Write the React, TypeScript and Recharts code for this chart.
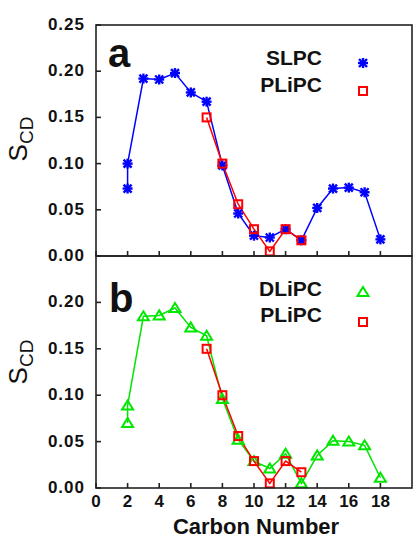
import React from "react";
import { LineChart, Line, XAxis, YAxis } from "recharts";

const carbonTicks = [0, 2, 4, 6, 8, 10, 12, 14, 16, 18];
const scdTicksTop = [0, 0.05, 0.1, 0.15, 0.2, 0.25];
const scdTicksBottom = [0, 0.05, 0.1, 0.15, 0.2];

// panel a: SLPC
const slpcCarbon = [2, 2, 3, 4, 5, 6, 7, 8, 9, 10, 11, 12, 13, 14, 15, 16, 17, 18];
const slpcScd = [0.073, 0.1, 0.192, 0.191, 0.198, 0.177, 0.167, 0.098, 0.046, 0.022, 0.02, 0.029, 0.017, 0.052, 0.073, 0.074, 0.069, 0.018];

// PLiPC, same in both panels
const plipcCarbon = [7, 8, 9, 10, 11, 12, 13];
const plipcScd = [0.15, 0.1, 0.056, 0.029, 0.005, 0.029, 0.017];

// panel b: DLiPC
const dlipcCarbon = [2, 2, 3, 4, 5, 6, 7, 8, 9, 10, 11, 12, 13, 14, 15, 16, 17, 18];
const dlipcScd = [0.07, 0.089, 0.185, 0.186, 0.194, 0.173, 0.164, 0.096, 0.052, 0.029, 0.021, 0.037, 0.005, 0.035, 0.051, 0.05, 0.046, 0.011];

const toRows = (xs: number[], ys: number[]) => xs.map((c, i) => ({ carbon: c, scd: ys[i] }));

const slpcData = toRows(slpcCarbon, slpcScd);
const plipcData = toRows(plipcCarbon, plipcScd);
const dlipcData = toRows(dlipcCarbon, dlipcScd);

const BLUE = "#0000ff";
const RED = "#ff0000";
const GREEN = "#00e600";
const AXIS = "#222222";
const FONT = "'Liberation Sans', Arial, sans-serif";
const TICK_LEN = 5;

// plot boxes (px): left, right, top of a, split, bottom of b
const BOX_L = 96;
const BOX_R = 412;
const BOX_TOP = 25;
const BOX_MID = 256;
const BOX_BOT = 488;

const Asterisk = ({ cx, cy }: { cx: number; cy: number }) => (
  <g stroke={BLUE} strokeWidth={2.4}>
    <line x1={cx - 5} y1={cy} x2={cx + 5} y2={cy} />
    <line x1={cx} y1={cy - 5} x2={cx} y2={cy + 5} />
    <line x1={cx - 4} y1={cy - 4} x2={cx + 4} y2={cy + 4} />
    <line x1={cx - 4} y1={cy + 4} x2={cx + 4} y2={cy - 4} />
  </g>
);

const Square = ({ cx, cy }: { cx: number; cy: number }) => (
  <rect x={cx - 4} y={cy - 4} width={8} height={8} fill="none" stroke={RED} strokeWidth={2} />
);

const Triangle = ({ cx, cy }: { cx: number; cy: number }) => (
  <path d={`M${cx},${cy - 5}L${cx + 5.5},${cy + 4}L${cx - 5.5},${cy + 4}Z`} fill="none" stroke={GREEN} strokeWidth={2} />
);

const dotOf = (Shape: any) => (p: any) => <Shape key={`d-${p.index}`} cx={p.cx} cy={p.cy} />;

// ticks point inwards; labels drawn outside the frame
const LeftTick = ({ x, y, payload }: any) => (
  <g>
    <path d={`M${Number(x)},${Number(y)}h${TICK_LEN}`} stroke={AXIS} strokeWidth={1.6} fill="none" />
    <text x={Number(x) - 11} y={y} dy={5} textAnchor="end" fontSize={17} fontWeight="bold" fill="#111" fontFamily={FONT} letterSpacing={1}>
      {Number(payload.value).toFixed(2)}
    </text>
  </g>
);

const RightTick = ({ x, y }: any) => (
  <path d={`M${Number(x)},${Number(y)}h${-TICK_LEN}`} stroke={AXIS} strokeWidth={1.6} fill="none" />
);

const TopTick = ({ x, y }: any) => (
  <path d={`M${Number(x)},${Number(y)}v${TICK_LEN}`} stroke={AXIS} strokeWidth={1.6} fill="none" />
);

const BottomTick = ({ x, y, payload, labels }: any) => (
  <g>
    <path d={`M${Number(x)},${Number(y)}v${-TICK_LEN}`} stroke={AXIS} strokeWidth={1.6} fill="none" />
    {labels && (
      <text x={x} y={y} dy={19} textAnchor="middle" fontSize={17} fontWeight="bold" fill="#111" fontFamily={FONT}>
        {payload.value}
      </text>
    )}
  </g>
);

function Frame({ yTicks, showXLabels }: { yTicks: number[]; showXLabels: boolean }) {
  const common = { axisLine: false, tickLine: false, tickSize: 0, tickMargin: 0, interval: 0 as const };
  return [
    <XAxis
      key="xb"
      dataKey="carbon"
      type="number"
      domain={[0, 20]}
      ticks={carbonTicks}
      height={showXLabels ? 50 : 1}
      tick={<BottomTick labels={showXLabels} />}
      {...common}
    />,
    <XAxis
      key="xt"
      xAxisId="top"
      orientation="top"
      dataKey="carbon"
      type="number"
      domain={[0, 20]}
      ticks={carbonTicks}
      height={1}
      tick={<TopTick />}
      {...common}
    />,
    <YAxis
      key="yl"
      type="number"
      domain={[0, 0.25]}
      ticks={yTicks}
      width={96}
      tick={<LeftTick />}
      {...common}
    />,
    <YAxis
      key="yr"
      yAxisId="right"
      orientation="right"
      type="number"
      domain={[0, 0.25]}
      ticks={yTicks}
      width={1}
      tick={<RightTick />}
      {...common}
    />,
  ];
}

const ScdLabel = ({ cy }: { cy: number }) => (
  <text transform={`translate(27,${cy}) rotate(-90)`} textAnchor="middle" fontFamily={FONT} fill="#111">
    <tspan fontSize={26}>S</tspan>
    <tspan fontSize={19} dy={6}>CD</tspan>
  </text>
);

const legendText = { fontFamily: FONT, fontSize: 21, fontWeight: "bold" as const, fill: "#111", textAnchor: "end" as const };

export default function App() {
  return (
    <div style={{ position: "absolute", left: 0, top: 0, width: 413, height: 538, overflow: "hidden", background: "#fff" }}>
      <div style={{ position: "absolute", left: 0, top: 0 }}>
        <LineChart width={414} height={270} margin={{ top: 24, right: 1, left: 0, bottom: 13 }}>
          {Frame({ yTicks: scdTicksTop, showXLabels: false })}
          <Line data={slpcData} dataKey="scd" stroke={BLUE} strokeWidth={1.5} dot={dotOf(Asterisk)} activeDot={false} isAnimationActive={false} />
          <Line data={plipcData} dataKey="scd" stroke={RED} strokeWidth={1.5} dot={dotOf(Square)} activeDot={false} isAnimationActive={false} />
        </LineChart>
      </div>
      <div style={{ position: "absolute", left: 0, top: 236 }}>
        <LineChart width={414} height={302} margin={{ top: 19, right: 1, left: 0, bottom: 0 }}>
          {Frame({ yTicks: scdTicksBottom, showXLabels: true })}
          <Line data={dlipcData} dataKey="scd" stroke={GREEN} strokeWidth={1.5} dot={dotOf(Triangle)} activeDot={false} isAnimationActive={false} />
          <Line data={plipcData} dataKey="scd" stroke={RED} strokeWidth={1.5} dot={dotOf(Square)} activeDot={false} isAnimationActive={false} />
        </LineChart>
      </div>
      <svg width={413} height={538} style={{ position: "absolute", left: 0, top: 0, pointerEvents: "none" }}>
        <rect x={BOX_L} y={BOX_TOP} width={BOX_R - BOX_L} height={BOX_MID - BOX_TOP} fill="none" stroke={AXIS} strokeWidth={1.6} />
        <rect x={BOX_L} y={BOX_MID} width={BOX_R - BOX_L} height={BOX_BOT - BOX_MID} fill="none" stroke={AXIS} strokeWidth={1.6} />
        <ScdLabel cy={139} />
        <ScdLabel cy={362} />
        <text x={108} y={67} fontFamily={FONT} fontSize={40} fontWeight="bold" fill="#111">a</text>
        <text x={109} y={312} fontFamily={FONT} fontSize={40} fontWeight="bold" fill="#111">b</text>
        <text x={322} y={65} {...legendText}>SLPC</text>
        <text x={322} y={92} {...legendText}>PLiPC</text>
        <Asterisk cx={363} cy={63} />
        <Square cx={363} cy={91} />
        <text x={322} y={296} {...legendText}>DLiPC</text>
        <text x={322} y={322} {...legendText}>PLiPC</text>
        <Triangle cx={363} cy={292} />
        <Square cx={363} cy={322} />
        <text x={256} y={534} textAnchor="middle" fontFamily={FONT} fontSize={22} fontWeight="bold" fill="#111">Carbon Number</text>
      </svg>
    </div>
  );
}
